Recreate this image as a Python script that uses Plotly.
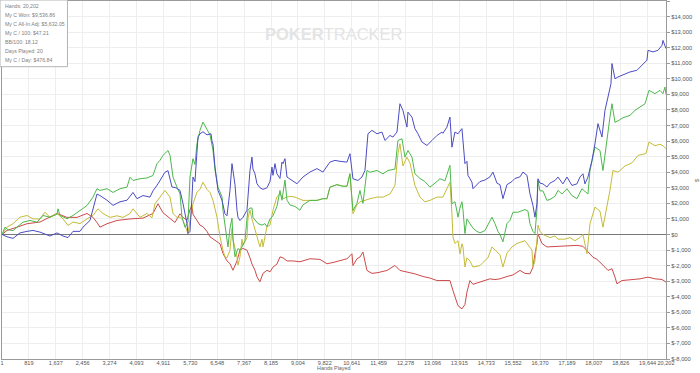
import plotly.graph_objects as go

# ---------------- data (hands played, cumulative $) ----------------
hands_blue = [1, 153, 336, 549, 762, 944, 1157, 1370, 1461, 1674, 1857, 2009, 2161, 2374, 2465, 2678,
              2830, 2891, 2982, 3195, 3378, 3591, 3804, 3986, 4108, 4290, 4503, 4594, 4746, 4959, 5051,
              5172, 5294, 5416, 5507, 5629, 5659, 5720, 5781, 5811, 5872, 5933, 5963, 6024, 6115, 6237,
              6359, 6389, 6420, 6481, 6572, 6694, 6785, 6846, 6937, 6998, 7028, 7089, 7150, 7180, 7241,
              7332, 7454, 7484, 7545, 7606, 7636, 7697, 7758, 7849, 7941, 8062, 8154, 8214, 8245, 8306,
              8366, 8458, 8518, 8549, 8610, 8671, 8823, 8975, 9157, 9370, 9583, 9765, 9978, 10130, 10283,
              10496, 10587, 10678, 10830, 10952, 11043, 11135, 11256, 11409, 11561, 11652, 11804, 11895,
              12017, 12108, 12199, 12321, 12351, 12473, 12564, 12656, 12777, 12929, 13082, 13234, 13386,
              13416, 13538, 13629, 13690, 13781, 13873, 13994, 14085, 14146, 14177, 14298, 14329, 14450,
              14542, 14694, 14846, 14937, 15059, 15150, 15241, 15363, 15515, 15607, 15759, 15850, 15972,
              16063, 16154, 16215, 16276, 16307, 16367, 16458, 16580, 16672, 16824, 16915, 17067, 17189,
              17341, 17493, 17584, 17676, 17736, 17828, 17950, 18041, 18132, 18254, 18345, 18437, 18528,
              18558, 18650, 18741, 18954, 19106, 19319, 19471, 19623, 19654, 19806, 19958, 20080, 20110,
              20171, 20202]
won_blue = [0, -150, -250, 100, 200, 260, 150, 0, -100, 100, -100, -200, 200, 200, 470, 900,
            2200, 2600, 2500, 2200, 1870, 2100, 2200, 2700, 2300, 2500, 2400, 2800, 3250, 4000, 4100,
            3050, 3000, 2830, 2000, 700, 60, 200, 2400, 3690, 3400, 5610, 6260, 6470, 6600, 6400,
            6470, 6000, 5800, 4330, 2830, 2190, 1330, 1200, 2830, 4550, 4110, 3200, 1560, 1110, 900,
            1100, 1560, 2620, 4110, 4970, 4200, 3900, 3260, 3000, 2900, 3000, 3400, 4330, 3800, 4550,
            3900, 3600, 4650, 4550, 4870, 3690, 3470, 3260, 3690, 4010, 4230, 4010, 4650, 4760, 4700,
            4650, 5190, 3580, 3470, 3690, 4110, 6470, 6690, 6470, 6580, 6040, 6360, 6260,
            6580, 8400, 7970, 6900, 7860, 7540, 6790, 6470, 5940, 5720, 6040, 6360, 6580,
            6500, 6900, 7540, 5610, 6580, 6470, 6800, 4550, 4700, 3800, 3360, 2940, 3200,
            3400, 3500, 3700, 4010, 3300, 3200, 2300, 3200, 3400, 3600, 3700, 4010, 3800,
            2620, 1870, 1110, 1970, 3580, 3300, 3250, 3050, 3300, 3470, 3690, 3250, 3690,
            3150, 3250, 3690, 3900, 3250, 3690, 4760, 5830, 7120, 6260, 7970, 8830, 9690,
            10980, 10000, 10120, 10330, 10440, 10550, 10870, 11200, 11830, 11730, 11830, 12150, 12470,
            12000, 11940]

hands_green = [1, 92, 183, 336, 457, 640, 853, 1066, 1248, 1461, 1674, 1705, 1765, 1978, 2161, 2374,
               2587, 2769, 2891, 2982, 3195, 3378, 3591, 3804, 3895, 3986, 4199, 4412, 4594, 4716, 4807,
               4898, 5051, 5112, 5203, 5324, 5416, 5477, 5568, 5659, 5720, 5811, 5872, 5933, 6024, 6115,
               6237, 6328, 6420, 6481, 6572, 6694, 6724, 6846, 6876, 6937, 6998, 7028, 7089, 7180, 7241,
               7302, 7393, 7454, 7484, 7545, 7606, 7636, 7788, 7910, 8001, 8062, 8154, 8245, 8366, 8458,
               8518, 8610, 8671, 8762, 8914, 9066, 9157, 9370, 9583, 9765, 9887, 9978, 10191, 10374,
               10496, 10587, 10678, 10800, 10891, 10982, 11104, 11196, 11409, 11591, 11743, 11956, 12047,
               12169, 12260, 12351, 12473, 12564, 12716, 12868, 13021, 13173, 13325, 13477, 13629, 13690,
               13781, 13842, 13873, 13933, 13994, 14025, 14085, 14146, 14237, 14329, 14450, 14542, 14694,
               14846, 14907, 14998, 15089, 15150, 15241, 15363, 15454, 15546, 15698, 15911, 16002, 16063,
               16154, 16215, 16276, 16307, 16367, 16458, 16580, 16672, 16824, 16915, 17037, 17189, 17341,
               17493, 17645, 17828, 17889, 18041, 18193, 18284, 18406, 18497, 18558, 18650, 18741, 18893,
               19106, 19258, 19563, 19684, 19867, 20019, 20110, 20171, 20202]
won_green = [0, 470, 300, 250, 470, 790, 900, 790, 1220, 1110, 1300, 1650, 1220, 1010, 1220, 1540,
             1860, 2400, 2940, 2830, 2940, 2700, 2940, 3040, 3680, 3470, 3580, 3630, 3790, 4550, 4760,
             5080, 5400, 5080, 3690, 3040, 2620, 1110, 470, 800, 3690, 4870, 4500, 5830, 6690, 7220,
             6700, 6400, 5420, 4130, 3040, 2420, 1560, -150, -800, 400, 1050, -300, -1440, -900, -1000,
             -800, -400, 1000, 1560, 1700, 1700, 1100, 700, 600, 700, 500, 1000, 1200, 1800, 2830,
             2200, 3490, 2200, 1900, 1800, 1560, 1900, 2190, 2190, 2300, 2300, 3040, 3200, 3100,
             3100, 3900, 1540, 2000, 2830, 2000, 4110, 4000, 4110, 3900, 4110, 4200, 6040,
             6150, 4970, 5400, 4970, 3900, 3600, 3400, 3040, 3300, 3580, 3450, 4440, 1970,
             2100, 1500, 1110, 1700, 2100, 1600, 60, 1000, 700, 400, 200, 100, 250,
             800, 1110, 700, 200, 0, -470, 700, 900, 1430, 1430, 1600, 1500, 700,
             200, 60, 1560, 3490, 2800, 2800, 2190, 2250, 2450, 2830, 2600, 2940, 2500,
             2300, 2940, 2600, 4110, 5610, 5400, 4110, 6260, 7540, 8400, 7200, 7300, 7500,
             7650, 7970, 8400, 9260, 9050, 9260, 9050, 9470, 9000]

hands_yellow = [1, 153, 336, 549, 762, 944, 1157, 1309, 1461, 1674, 1857, 2009, 2161, 2374, 2587, 2769,
                2921, 3073, 3286, 3499, 3682, 3895, 3986, 4199, 4412, 4564, 4655, 4807, 4959, 5112, 5203,
                5324, 5416, 5507, 5629, 5659, 5720, 5811, 5933, 6024, 6115, 6237, 6328, 6420, 6542, 6633,
                6724, 6785, 6846, 6937, 6998, 7028, 7150, 7180, 7241, 7302, 7332, 7454, 7484, 7545, 7606,
                7697, 7758, 7849, 7910, 7941, 8062, 8154, 8245, 8366, 8458, 8549, 8671, 8762, 8914, 9066,
                9157, 9370, 9583, 9765, 9887, 9978, 10191, 10374, 10496, 10587, 10678, 10800, 10891, 11043,
                11196, 11409, 11591, 11804, 11956, 12047, 12108, 12199, 12321, 12412, 12564, 12716, 12868,
                13021, 13234, 13416, 13629, 13690, 13720, 13781, 13873, 13933, 13994, 14025, 14085, 14146,
                14237, 14329, 14542, 14633, 14785, 14907, 15059, 15150, 15241, 15363, 15515, 15667, 15911,
                16124, 16154, 16215, 16276, 16307, 16367, 16458, 16672, 16824, 16915, 17128, 17280, 17432,
                17584, 17676, 17797, 17889, 18041, 18193, 18284, 18406, 18497, 18589, 18741, 18954, 19167,
                19350, 19593, 19684, 19867, 20019, 20110, 20202]
won_yellow = [0, 470, 690, 1110, 1220, 1000, 1000, 1430, 1100, 1350, 1000, 580, 800, 700, 1000, 1220,
              1650, 1350, 1100, 1200, 1100, 1350, 1650, 1100, 1350, 1070, 1970, 2400, 2830, 2400, 1350,
              1100, 1110, 900, 280, 60, 900, 1970, 2720, 2900, 3360, 2900, 2700, 2190, 1110, -150,
              -1010, -1440, -1500, -1010, 400, -300, -1440, -1970, -1440, -300, -700, -200, 1050, 1560, 1000,
              300, -200, -800, -300, -800, 500, 600, 1560, 2420, 2620, 2300, 2400, 2450, 2400, 2300,
              2190, 2190, 2190, 2300, 2300, 3040, 3200, 3100, 3100, 3900, 1330, 1900, 2100, 2190,
              2300, 2400, 2400, 2600, 3150, 5190, 5830, 4400, 4970, 4600, 3150, 2400, 2100,
              2190, 2400, 2400, 3360, 1330, -150, -580, -400, -1240, -600, -800, -2090, -1500,
              -1700, -2090, -2000, -1800, -1500, -800, -1100, -1300, -2090, -1200, -800, -580, -400,
              -1000, -2090, -1700, -400, 600, 200, 0, -200, -100, -300, -300, -200, -400,
              -200, 0, -1240, 690, 1760, 1500, 470, 1760, 2830, 4110, 4000, 4400, 4600,
              5080, 5200, 5940, 5700, 5800, 5700, 5510]

hands_red = [1, 153, 457, 762, 1157, 1461, 1674, 1978, 2283, 2587, 2769, 2891, 2982, 3195, 3499, 3895,
             4290, 4594, 4746, 4898, 5112, 5264, 5416, 5507, 5629, 5720, 5781, 5811, 5933, 6024, 6115,
             6237, 6328, 6420, 6542, 6633, 6724, 6846, 6937, 7028, 7150, 7241, 7332, 7454, 7545, 7606,
             7697, 7758, 7849, 7941, 8062, 8154, 8245, 8366, 8458, 8549, 8671, 8853, 9066, 9370, 9674,
             9887, 10070, 10283, 10496, 10648, 10678, 10800, 10891, 10982, 11104, 11256, 11439, 11713,
             11895, 11956, 12108, 12321, 12564, 12808, 13021, 13234, 13325, 13538, 13629, 13720, 13842,
             13873, 13994, 14085, 14146, 14237, 14329, 14481, 14633, 14846, 14998, 15150, 15363, 15546,
             15759, 15911, 16063, 16124, 16154, 16215, 16276, 16307, 16428, 16580, 16763, 16976, 17280,
             17493, 17676, 17797, 17980, 18102, 18254, 18345, 18437, 18558, 18650, 18710, 18863, 19167,
             19410, 19654, 19867, 20080, 20202]
won_red = [0, 260, 470, 690, 800, 1110, 1350, 1100, 1100, 1350, 1100, 770, 470, 690, 900, 1000,
           1050, 1350, 1970, 1400, 1000, 770, 1330, 1100, 920, 1600, 1870, 1300, 900, 600, 500,
           200, -150, -300, -500, -600, -1220, -1700, -1870, -2300, -1700, -1000, -900, -1010, -1500, -1900,
           -2300, -2720, -3040, -2500, -2300, -2400, -2100, -1900, -1440, -1500, -1700, -1700, -1750, -1560, -1600,
           -1880, -1800, -1700, -1560, -1240, -2000, -1560, -1450, -1130, -2310, -2500, -2450, -2310,
           -2100, -1990, -2310, -2400, -2530, -2700, -2800, -2960, -2960, -3000, -2960, -3600, -4300,
           -4570, -4780, -4500, -3700, -2960, -3200, -3100, -3000, -2850, -2900, -2850, -2700, -2600,
           -2310, -2500, -2530, -2300, -2100, -1240, -600, 40, -580, -800, -780, -760, -700,
           -700, -760, -1030, -1460, -1600, -1890, -2100, -2310, -2200, -2740, -3170, -2960, -2890,
           -2850, -2740, -2850, -2890, -3060]

x_tick_vals = [1, 819, 1637, 2456, 3274, 4093, 4911, 5730, 6548, 7367, 8185, 9004, 9822, 10641,
               11459, 12278, 13096, 13915, 14733, 15552, 16370, 17189, 18007, 18826, 19644, 20202]
y_tick_vals = list(range(-8000, 15001, 1000))

stats_lines = ["Hands: 20,202", "My C Won: $9,536.86", "My C All-In Adj: $5,632.05",
               "My C / 100: $47.21", "BB/100: 18.12", "Days Played: 20", "My C / Day: $476.84"]

series = [
    (hands_red, won_red, "#cc4a4a"),
    (hands_yellow, won_yellow, "#c4bc3a"),
    (hands_green, won_green, "#4cb84c"),
    (hands_blue, won_blue, "#4c4cc4"),
]
for hx, wy, _ in series:
    assert len(hx) == len(wy), (len(hx), len(wy))

fig = go.Figure()
for hx, wy, col in series:
    fig.add_trace(go.Scatter(x=hx, y=wy, mode="lines", line=dict(color=col, width=1),
                             hoverinfo="skip", showlegend=False))

fam = "Liberation Sans, Arial, sans-serif"
fig.update_layout(
    width=700, height=373,
    margin=dict(l=2, r=34, t=1, b=14),
    paper_bgcolor="white", plot_bgcolor="white",
    font=dict(family=fam, size=6, color="#666666"),
    showlegend=False,
    xaxis=dict(
        range=[1, 20202], tickmode="array", tickvals=x_tick_vals,
        ticktext=[format(v, ",") for v in x_tick_vals],
        tickfont=dict(size=5.6, color="#555555"), tickangle=0, ticklabelstandoff=-2,
        showgrid=True, gridcolor="#eeeeee", gridwidth=1,
        zeroline=False, showline=True, linecolor="#9a9a9a", linewidth=1, mirror=True,
        ticks="", automargin=False,
    ),
    yaxis=dict(
        side="right", range=[-8000, 15000], tickmode="array", tickvals=y_tick_vals,
        ticktext=["$" + format(v, ",") for v in y_tick_vals],
        tickfont=dict(size=5.8, color="#555555"),
        ticks="outside", ticklen=3, tickcolor="#9a9a9a",
        showgrid=True, gridcolor="#eeeeee", gridwidth=1,
        zeroline=True, zerolinecolor="#777777", zerolinewidth=1,
        showline=True, linecolor="#9a9a9a", linewidth=1, mirror=True,
        automargin=False,
    ),
)

# axis titles (placed like the reference: below tick labels / right of them)
fig.add_annotation(x=0.5, y=-0.0391, xref="paper", yref="paper", showarrow=False,
                   xanchor="center", yanchor="bottom", text="Hands Played",
                   font=dict(size=5.4, color="#666666", family=fam))
fig.add_annotation(x=1.0467, y=0.5, xref="paper", yref="paper", showarrow=False,
                   xanchor="center", yanchor="middle", text="$", textangle=-90,
                   font=dict(size=6, color="#666666", family=fam))

# watermark
fig.add_annotation(x=0.5, y=0.939, xref="paper", yref="paper", showarrow=False,
                   text="<b>POKER</b>TRACKER", font=dict(size=16.5, color="#e4e4e4", family=fam))

# stats box
fig.add_shape(type="rect", xref="paper", yref="paper", x0=-0.003, x1=0.0986, y0=0.8165, y1=1.0028,
              line=dict(color="#b4b4b4", width=1), fillcolor="white", layer="above")
line_py = [5.7, 14.7, 23.7, 32.7, 41.7, 50.7, 59.7]
for txt, py in zip(stats_lines, line_py):
    fig.add_annotation(x=0.0015, y=(359 - py) / 358, xref="paper", yref="paper", showarrow=False,
                       xanchor="left", yanchor="middle", text=txt,
                       font=dict(size=5.2, color="#808080", family=fam))

fig.write_html("out.html", config={"displayModeBar": False, "staticPlot": True},
               post_script="document.body.style.margin='0px';document.body.style.overflow='hidden';")
